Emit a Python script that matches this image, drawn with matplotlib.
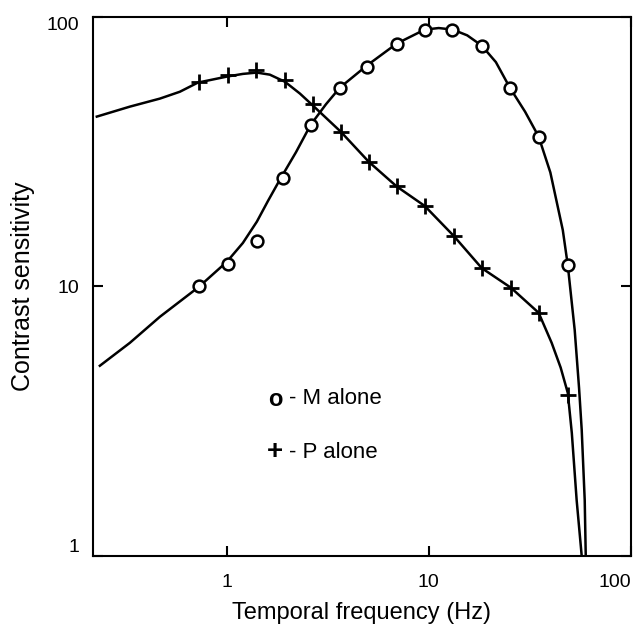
import numpy as np
import matplotlib
matplotlib.use("Agg")
import matplotlib.pyplot as plt

plt.rcParams['font.family'] = ['Liberation Sans', 'DejaVu Sans']

# measured points, M alone (circles)
m_freq = [0.73, 1.01, 1.41, 1.89, 2.60, 3.63, 4.93, 6.94, 9.56, 13.1, 18.3, 25.2, 35.1, 48.8]
m_sens = [10.0, 12.1, 14.8, 25.3, 39.9, 54.7, 65.5, 79.7, 89.8, 89.8, 78.3, 54.7, 35.9, 12.0]

# measured points, P alone (pluses)
p_freq = [0.73, 1.01, 1.39, 1.94, 2.66, 3.67, 5.05, 6.94, 9.56, 13.3, 18.3, 25.4, 35.1, 48.8]
p_sens = [57.6, 61.1, 63.8, 58.6, 47.7, 37.5, 29.0, 23.5, 19.9, 15.4, 11.7, 9.9, 8.0, 3.96]

# fitted curves
m_fit_x = [0.235, 0.331, 0.466, 0.727, 1.0, 1.2, 1.408, 1.6, 1.83, 2.2, 2.60, 3.1, 3.63,
           4.93, 6.94, 9.55, 11.2, 13.15, 15.5, 18.3, 21.5, 25.2, 30.0, 35.0, 40.0,
           46.1, 48.8, 52.8, 55.5, 57.2, 59.2, 59.9]
m_fit_y = [5.08, 6.18, 7.72, 9.97, 12.35, 14.5, 17.4, 20.8, 24.9, 31.5, 39.8, 47.5, 54.7,
           66.0, 79.7, 89.8, 91.0, 89.8, 85.5, 78.3, 68.0, 54.7, 44.5, 36.0, 26.5,
           16.2, 12.0, 6.9, 4.2, 2.94, 1.61, 1.0]

p_fit_x = [0.227, 0.331, 0.466, 0.585, 0.719, 1.0, 1.2, 1.408, 1.633, 1.94, 2.3, 2.67,
           3.67, 5.05, 6.94, 9.55, 13.3, 18.3, 25.5, 35.0, 40.6, 45.0, 48.8, 51.1,
           54.0, 57.2]
p_fit_y = [42.7, 46.5, 49.8, 52.8, 57.1, 60.1, 61.5, 62.2, 61.1, 57.5, 52.0, 46.9,
           37.5, 29.0, 23.5, 19.9, 15.4, 11.7, 9.9, 7.99, 6.18, 5.0, 4.03, 2.86,
           1.61, 1.0]

fig = plt.figure(figsize=(6.39, 6.30), dpi=100)
ax = fig.add_axes([0.1455, 0.1175, 0.8415, 0.8555])

ax.plot(m_fit_x, m_fit_y, color='black', lw=1.8)
ax.plot(p_fit_x, p_fit_y, color='black', lw=1.8)
ax.plot(m_freq, m_sens, 'o', ms=8.5, mfc='white', mec='black', mew=1.8)
ax.plot(p_freq, p_sens, '+', ms=11, mec='black', mew=2.0)

ax.set_xscale('log')
ax.set_yscale('log')
ax.set_xlim(10 ** (-0.663), 100)
ax.set_ylim(1, 100)

ax.set_xticks([1, 10, 100])
ax.set_xticklabels(['1', '10', '100'])
ax.set_yticks([1, 10, 100])
ax.set_yticklabels(['1', '10', '100'])
ax.minorticks_off()
ax.tick_params(direction='in', length=7, width=1.5, labelsize=14,
               top=True, right=True)
ax.tick_params(axis='x', pad=13)
ax.tick_params(axis='y', pad=10)
ax.get_xticklabels()[-1].set_horizontalalignment('right')
ylabs = ax.get_yticklabels()
ylabs[0].set_verticalalignment('bottom')
ylabs[-1].set_verticalalignment('top')

for s in ax.spines.values():
    s.set_linewidth(1.5)

ax.set_xlabel('Temporal frequency (Hz)', fontsize=17, labelpad=8)
ax.set_ylabel('Contrast sensitivity', fontsize=18, labelpad=8)

# legend drawn as text
fig.text(275 / 639, 1 - 399 / 630, 'o', fontsize=17, fontweight='bold',
         ha='center', va='center')
fig.text(289 / 639, 1 - 399 / 630, '- M alone', fontsize=16, ha='left', va='center')
fig.text(275 / 639, 1 - 452 / 630, '+', fontsize=20, fontweight='bold',
         ha='center', va='center')
fig.text(289 / 639, 1 - 452 / 630, '- P alone', fontsize=16, ha='left', va='center')

fig.savefig('out.png', dpi=100)
